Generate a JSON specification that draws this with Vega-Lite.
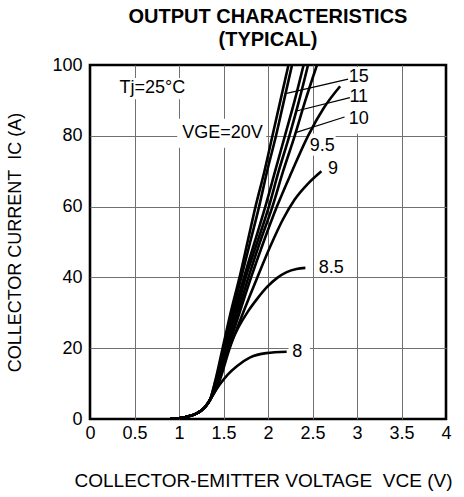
{
  "$schema": "https://vega.github.io/schema/vega-lite/v6.json",
  "description": "IGBT output characteristics (typical), collector current vs collector-emitter voltage for several gate voltages",
  "autosize": "none",
  "padding": {"left": 90, "top": 65, "right": 18, "bottom": 78},
  "width": 356,
  "height": 354,
  "title": {
    "text": ["OUTPUT CHARACTERISTICS", "(TYPICAL)"],
    "fontSize": 20,
    "fontWeight": "bold",
    "anchor": "middle",
    "lineHeight": 23,
    "offset": 6,
    "color": "black"
  },
  "datasets": {
    "curves": [
      {"vge": "20", "v": 0.9, "i": 0}, {"vge": "20", "v": 1.0, "i": 0.2}, {"vge": "20", "v": 1.1, "i": 0.7}, {"vge": "20", "v": 1.2, "i": 1.6}, {"vge": "20", "v": 1.25, "i": 2.4}, {"vge": "20", "v": 1.3, "i": 3.6}, {"vge": "20", "v": 1.35, "i": 5.5},
      {"vge": "20", "v": 1.4, "i": 10}, {"vge": "20", "v": 1.49, "i": 20}, {"vge": "20", "v": 1.58, "i": 30}, {"vge": "20", "v": 1.68, "i": 40}, {"vge": "20", "v": 1.77, "i": 50}, {"vge": "20", "v": 1.86, "i": 60}, {"vge": "20", "v": 1.96, "i": 70}, {"vge": "20", "v": 2.05, "i": 80}, {"vge": "20", "v": 2.14, "i": 90}, {"vge": "20", "v": 2.23, "i": 100},

      {"vge": "15", "v": 0.9, "i": 0}, {"vge": "15", "v": 1.0, "i": 0.2}, {"vge": "15", "v": 1.1, "i": 0.7}, {"vge": "15", "v": 1.2, "i": 1.6}, {"vge": "15", "v": 1.25, "i": 2.4}, {"vge": "15", "v": 1.3, "i": 3.6}, {"vge": "15", "v": 1.35, "i": 5.5},
      {"vge": "15", "v": 1.4, "i": 9.8}, {"vge": "15", "v": 1.51, "i": 20}, {"vge": "15", "v": 1.6, "i": 30}, {"vge": "15", "v": 1.7, "i": 40}, {"vge": "15", "v": 1.8, "i": 50}, {"vge": "15", "v": 1.9, "i": 60}, {"vge": "15", "v": 1.99, "i": 70}, {"vge": "15", "v": 2.09, "i": 80}, {"vge": "15", "v": 2.18, "i": 90}, {"vge": "15", "v": 2.27, "i": 100},

      {"vge": "12", "v": 0.9, "i": 0}, {"vge": "12", "v": 1.0, "i": 0.2}, {"vge": "12", "v": 1.1, "i": 0.7}, {"vge": "12", "v": 1.2, "i": 1.6}, {"vge": "12", "v": 1.25, "i": 2.4}, {"vge": "12", "v": 1.3, "i": 3.6}, {"vge": "12", "v": 1.35, "i": 5.5},
      {"vge": "12", "v": 1.41, "i": 9.6}, {"vge": "12", "v": 1.52, "i": 20}, {"vge": "12", "v": 1.62, "i": 30}, {"vge": "12", "v": 1.73, "i": 40}, {"vge": "12", "v": 1.85, "i": 50}, {"vge": "12", "v": 1.97, "i": 60}, {"vge": "12", "v": 2.08, "i": 70}, {"vge": "12", "v": 2.19, "i": 80}, {"vge": "12", "v": 2.3, "i": 90}, {"vge": "12", "v": 2.4, "i": 100},

      {"vge": "11", "v": 0.9, "i": 0}, {"vge": "11", "v": 1.0, "i": 0.2}, {"vge": "11", "v": 1.1, "i": 0.7}, {"vge": "11", "v": 1.2, "i": 1.6}, {"vge": "11", "v": 1.25, "i": 2.4}, {"vge": "11", "v": 1.3, "i": 3.6}, {"vge": "11", "v": 1.35, "i": 5.5},
      {"vge": "11", "v": 1.41, "i": 9.5}, {"vge": "11", "v": 1.53, "i": 20}, {"vge": "11", "v": 1.64, "i": 30}, {"vge": "11", "v": 1.75, "i": 40}, {"vge": "11", "v": 1.88, "i": 50}, {"vge": "11", "v": 2.01, "i": 60}, {"vge": "11", "v": 2.12, "i": 70}, {"vge": "11", "v": 2.24, "i": 80}, {"vge": "11", "v": 2.35, "i": 90}, {"vge": "11", "v": 2.45, "i": 100},

      {"vge": "10", "v": 0.9, "i": 0}, {"vge": "10", "v": 1.0, "i": 0.2}, {"vge": "10", "v": 1.1, "i": 0.7}, {"vge": "10", "v": 1.2, "i": 1.6}, {"vge": "10", "v": 1.25, "i": 2.4}, {"vge": "10", "v": 1.3, "i": 3.6}, {"vge": "10", "v": 1.35, "i": 5.5},
      {"vge": "10", "v": 1.42, "i": 9.3}, {"vge": "10", "v": 1.54, "i": 20}, {"vge": "10", "v": 1.66, "i": 30}, {"vge": "10", "v": 1.78, "i": 40}, {"vge": "10", "v": 1.91, "i": 50}, {"vge": "10", "v": 2.05, "i": 60}, {"vge": "10", "v": 2.17, "i": 70}, {"vge": "10", "v": 2.3, "i": 80}, {"vge": "10", "v": 2.42, "i": 90}, {"vge": "10", "v": 2.55, "i": 100},

      {"vge": "9.5", "v": 0.9, "i": 0}, {"vge": "9.5", "v": 1.0, "i": 0.2}, {"vge": "9.5", "v": 1.1, "i": 0.7}, {"vge": "9.5", "v": 1.2, "i": 1.6}, {"vge": "9.5", "v": 1.25, "i": 2.4}, {"vge": "9.5", "v": 1.3, "i": 3.6}, {"vge": "9.5", "v": 1.35, "i": 5.5},
      {"vge": "9.5", "v": 1.42, "i": 9.2}, {"vge": "9.5", "v": 1.55, "i": 20}, {"vge": "9.5", "v": 1.68, "i": 30}, {"vge": "9.5", "v": 1.81, "i": 40}, {"vge": "9.5", "v": 1.95, "i": 50}, {"vge": "9.5", "v": 2.1, "i": 60}, {"vge": "9.5", "v": 2.27, "i": 70}, {"vge": "9.5", "v": 2.45, "i": 80}, {"vge": "9.5", "v": 2.63, "i": 88}, {"vge": "9.5", "v": 2.81, "i": 94},

      {"vge": "9", "v": 0.9, "i": 0}, {"vge": "9", "v": 1.0, "i": 0.2}, {"vge": "9", "v": 1.1, "i": 0.7}, {"vge": "9", "v": 1.2, "i": 1.6}, {"vge": "9", "v": 1.25, "i": 2.4}, {"vge": "9", "v": 1.3, "i": 3.6}, {"vge": "9", "v": 1.35, "i": 5.5},
      {"vge": "9", "v": 1.43, "i": 9}, {"vge": "9", "v": 1.57, "i": 20}, {"vge": "9", "v": 1.72, "i": 30}, {"vge": "9", "v": 1.88, "i": 40}, {"vge": "9", "v": 2.03, "i": 49}, {"vge": "9", "v": 2.17, "i": 56.5}, {"vge": "9", "v": 2.3, "i": 62}, {"vge": "9", "v": 2.45, "i": 66.5}, {"vge": "9", "v": 2.6, "i": 70},

      {"vge": "8.5", "v": 0.9, "i": 0}, {"vge": "8.5", "v": 1.0, "i": 0.2}, {"vge": "8.5", "v": 1.1, "i": 0.7}, {"vge": "8.5", "v": 1.2, "i": 1.6}, {"vge": "8.5", "v": 1.25, "i": 2.4}, {"vge": "8.5", "v": 1.3, "i": 3.6}, {"vge": "8.5", "v": 1.35, "i": 5.5},
      {"vge": "8.5", "v": 1.43, "i": 9.5}, {"vge": "8.5", "v": 1.5, "i": 15.5}, {"vge": "8.5", "v": 1.58, "i": 21.2}, {"vge": "8.5", "v": 1.67, "i": 26}, {"vge": "8.5", "v": 1.77, "i": 30.2}, {"vge": "8.5", "v": 1.88, "i": 34}, {"vge": "8.5", "v": 1.99, "i": 37.3}, {"vge": "8.5", "v": 2.1, "i": 39.8}, {"vge": "8.5", "v": 2.21, "i": 41.5}, {"vge": "8.5", "v": 2.32, "i": 42.4}, {"vge": "8.5", "v": 2.42, "i": 42.7},

      {"vge": "8", "v": 0.9, "i": 0}, {"vge": "8", "v": 1.0, "i": 0.2}, {"vge": "8", "v": 1.1, "i": 0.7}, {"vge": "8", "v": 1.2, "i": 1.6}, {"vge": "8", "v": 1.25, "i": 2.4}, {"vge": "8", "v": 1.3, "i": 3.6}, {"vge": "8", "v": 1.35, "i": 5.5},
      {"vge": "8", "v": 1.4, "i": 7.6}, {"vge": "8", "v": 1.46, "i": 9.8}, {"vge": "8", "v": 1.55, "i": 12.6}, {"vge": "8", "v": 1.65, "i": 14.9}, {"vge": "8", "v": 1.8, "i": 17.4}, {"vge": "8", "v": 1.98, "i": 18.6}, {"vge": "8", "v": 2.21, "i": 19}
    ],
    "leaders": [
      {"to": "15", "v": 2.9, "i": 96.0}, {"to": "15", "v": 2.21, "i": 92.0},
      {"to": "11", "v": 2.92, "i": 90.8}, {"to": "11", "v": 2.32, "i": 87.0},
      {"to": "10", "v": 2.86, "i": 85.3}, {"to": "10", "v": 2.31, "i": 80.9}
    ],
    "masks": [
      {"v0": 0.27, "v1": 1.17, "i0": 90.3, "i1": 96.3},
      {"v0": 0.98, "v1": 1.98, "i0": 76.6, "i1": 84.8},
      {"v0": 2.93, "v1": 3.14, "i0": 80.6, "i1": 99.4},
      {"v0": 2.46, "v1": 2.76, "i0": 74.4, "i1": 80.6},
      {"v0": 2.23, "v1": 2.47, "i0": 16.4, "i1": 21.6}
    ],
    "labels": [
      {"text": "Tj=25°C", "v": 0.7, "i": 93.4},
      {"text": "VGE=20V", "v": 1.49, "i": 80.9},
      {"text": "15", "v": 3.02, "i": 96.6},
      {"text": "11", "v": 3.02, "i": 90.9},
      {"text": "10", "v": 3.02, "i": 84.8},
      {"text": "9.5", "v": 2.61, "i": 77.0},
      {"text": "9", "v": 2.73, "i": 70.6},
      {"text": "8.5", "v": 2.71, "i": 42.7},
      {"text": "8", "v": 2.33, "i": 19.0}
    ]
  },
  "encoding": {
    "x": {
      "field": "v",
      "type": "quantitative",
      "scale": {"domain": [0, 4], "nice": false},
      "axis": {
        "title": "COLLECTOR-EMITTER VOLTAGE\u00a0\u00a0VCE (V)",
        "titleFontSize": 19,
        "values": [0, 0.5, 1, 1.5, 2, 2.5, 3, 3.5, 4],
        "format": "~g",
        "labelFlush": false,
        "labelPadding": 5,
        "titleX": 173,
        "titleY": 61,
        "titleAlign": "center",
        "titleBaseline": "middle",
        "gridOpacity": {"condition": {"test": "datum.value === 0 || datum.value === 4", "value": 0}, "value": 1}
      }
    },
    "y": {
      "field": "i",
      "type": "quantitative",
      "scale": {"domain": [0, 100], "nice": false},
      "axis": {
        "title": "COLLECTOR CURRENT\u00a0\u00a0IC (A)",
        "values": [0, 20, 40, 60, 80, 100],
        "labelPadding": 8,
        "titleX": -75,
        "titleY": 177,
        "titleAlign": "center",
        "titleBaseline": "middle",
        "gridOpacity": {"condition": {"test": "datum.value === 0 || datum.value === 100", "value": 0}, "value": 1}
      }
    }
  },
  "layer": [
    {
      "data": {"name": "masks"},
      "mark": {"type": "rect", "color": "white"},
      "encoding": {
        "x": {"field": "v0", "type": "quantitative"},
        "x2": {"field": "v1"},
        "y": {"field": "i0", "type": "quantitative"},
        "y2": {"field": "i1"}
      }
    },
    {
      "data": {"name": "leaders"},
      "mark": {"type": "line", "color": "black", "strokeWidth": 1.2},
      "encoding": {"detail": {"field": "to"}}
    },
    {
      "data": {"name": "curves"},
      "mark": {"type": "line", "color": "black", "strokeWidth": 2.6, "interpolate": "monotone", "clip": true},
      "encoding": {"detail": {"field": "vge"}}
    },
    {
      "data": {"name": "labels"},
      "mark": {"type": "text", "fontSize": 18, "align": "center", "baseline": "middle", "color": "black"},
      "encoding": {"text": {"field": "text"}}
    }
  ],
  "config": {
    "font": "Liberation Sans",
    "view": {"stroke": "black", "strokeWidth": 2.6},
    "axis": {
      "grid": true,
      "gridColor": "#707070",
      "gridWidth": 1,
      "domain": false,
      "ticks": false,
      "labelFontSize": 18,
      "labelColor": "black",
      "labelOverlap": false,
      "titleFontSize": 18,
      "titleFontWeight": "normal",
      "titleColor": "black"
    }
  }
}
